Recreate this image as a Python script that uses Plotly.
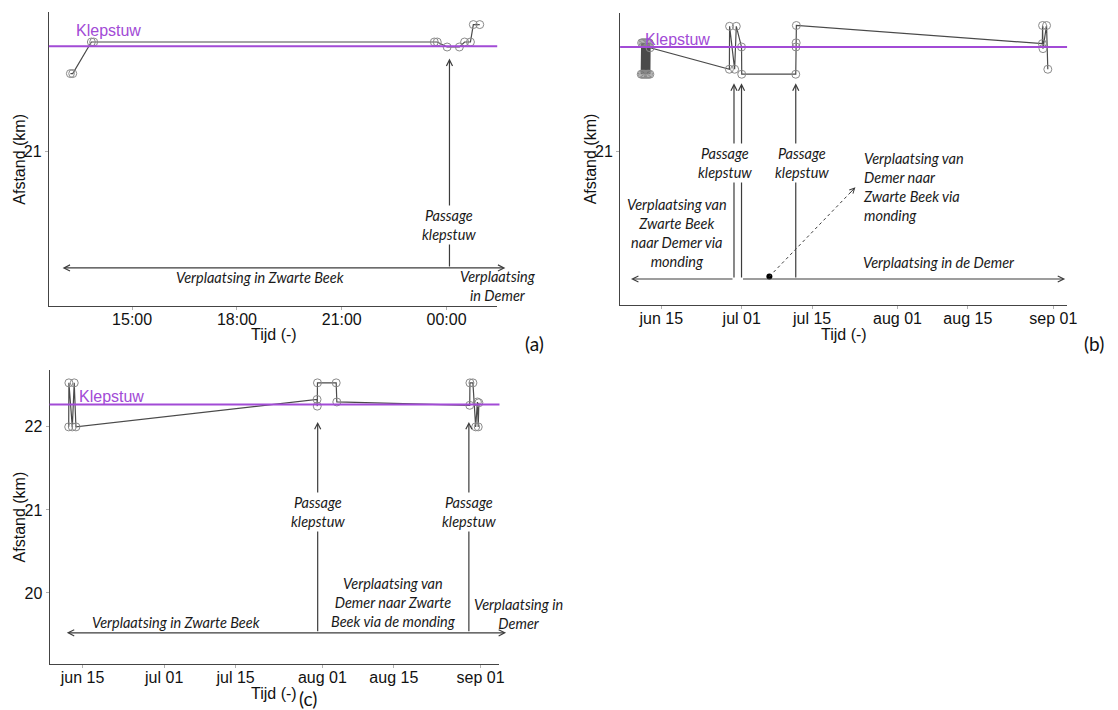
import pandas as pd
import plotly.graph_objects as go

# ---------------------------------------------------------------- data
KLEPSTUW_KM = 22.27          # position of the weir (km)
Y_RANGE = [19.145, 22.685]

# (a) one night, minute resolution
a_time = ["2019-06-12 13:14", "2019-06-12 13:18", "2019-06-12 13:50", "2019-06-12 13:54",
          "2019-06-12 23:39", "2019-06-12 23:44", "2019-06-13 00:01", "2019-06-13 00:22",
          "2019-06-13 00:31", "2019-06-13 00:41", "2019-06-13 00:46", "2019-06-13 00:57"]
a_km = [21.94, 21.94, 22.32, 22.32, 22.32, 22.32, 22.26, 22.26, 22.32, 22.32, 22.53, 22.53]
a_tickvals = ["2019-06-12 15:00", "2019-06-12 18:00", "2019-06-12 21:00", "2019-06-13 00:00"]
a_ticktext = ["15:00", "18:00", "21:00", "00:00"]
a_range = ["2019-06-12 12:37", "2019-06-13 01:27"]

# (b) summer track
b_time = ["2019-06-11 00:00", "2019-06-11 02:00", "2019-06-11 05:00", "2019-06-11 08:00",
          "2019-06-11 11:00", "2019-06-11 14:00", "2019-06-11 17:00", "2019-06-11 20:00",
          "2019-06-11 23:00", "2019-06-12 02:00", "2019-06-12 05:00", "2019-06-12 08:00",
          "2019-06-12 11:00", "2019-06-12 14:00", "2019-06-12 17:00", "2019-06-12 18:00",
          "2019-06-28 13:00", "2019-06-28 14:00", "2019-06-29 14:00", "2019-06-29 22:00",
          "2019-06-30 23:00", "2019-07-01 00:00", "2019-07-11 18:00", "2019-07-11 19:00",
          "2019-07-11 20:00", "2019-07-11 21:00", "2019-08-29 20:00", "2019-08-29 21:00",
          "2019-08-29 23:00", "2019-08-30 16:00", "2019-08-30 22:00"]
b_km = [21.94, 22.32, 21.94, 22.32, 21.94, 22.32, 21.94, 22.32,
        21.94, 22.32, 21.94, 22.32, 21.94, 22.32, 21.94, 22.26,
        22.00, 22.52, 22.00, 22.52, 22.27, 21.94, 21.94, 22.27,
        22.32, 22.53, 22.31, 22.53, 22.25, 22.53, 22.00]
b_range = ["2019-06-06 19:00", "2019-09-03 18:00"]

# (c) summer track
c_time = ["2019-06-12 07:00", "2019-06-12 08:00", "2019-06-13 00:00", "2019-06-13 09:00",
          "2019-06-13 17:00", "2019-07-30 23:00", "2019-07-31 00:00", "2019-07-31 01:00",
          "2019-08-03 17:00", "2019-08-03 20:00", "2019-08-29 21:00", "2019-08-29 22:00",
          "2019-08-30 12:00", "2019-08-31 01:00", "2019-08-31 09:00", "2019-08-31 13:00",
          "2019-08-31 16:00"]
c_km = [22.00, 22.53, 22.00, 22.53, 22.00, 22.33, 22.25, 22.53,
        22.53, 22.30, 22.26, 22.53, 22.53, 22.00, 22.30, 22.00, 22.29]
c_range = ["2019-06-08 13:00", "2019-09-04 17:00"]

month_tickvals = ["2019-06-15", "2019-07-01", "2019-07-15", "2019-08-01", "2019-08-15", "2019-09-01"]
month_ticktext = ["jun 15", "jul 01", "jul 15", "aug 01", "aug 15", "sep 01"]

# ---------------------------------------------------------------- styling
W, H = 1118, 710
PURPLE = "#A24BD6"
LINE = "#4a4a4a"
ARROW = "#3c3c3c"
AX_FONT = "Liberation Sans, Arial, sans-serif"
NOTE_FONT = dict(family="Lato, sans-serif", size=14.5, color="#1a1a1a", style="italic")


def px_x(px):
    return px / W


def px_y(py):
    return 1 - py / H


fig = go.Figure()

for xa, ya, t, km in [("x", "y", a_time, a_km), ("x2", "y2", b_time, b_km), ("x3", "y3", c_time, c_km)]:
    fig.add_trace(go.Scatter(
        x=pd.to_datetime(t), y=km, xaxis=xa, yaxis=ya, mode="lines+markers",
        line=dict(color=LINE, width=1.2),
        marker=dict(symbol="circle-open", size=8, color="#8a8a8a", line=dict(width=1)),
        showlegend=False, hoverinfo="skip"))

# black marker where the dotted arrow of (b) starts
dot_t, dot_km = pd.Timestamp("2019-07-06 12:00"), 19.49
dot_end_t, dot_end_km = pd.Timestamp("2019-07-23 15:00"), 20.57
fig.add_trace(go.Scatter(x=[dot_t], y=[dot_km], xaxis="x2", yaxis="y2", mode="markers",
                         marker=dict(color="black", size=6), showlegend=False, hoverinfo="skip"))

axis_common = dict(showline=True, linecolor="#444444", linewidth=1, showgrid=False, zeroline=False,
                   ticks="outside", ticklen=3, tickcolor="#b0b0b0", ticklabelstandoff=-4,
                   tickfont=dict(family=AX_FONT, size=16, color="#111111"))
yaxis_common = dict(axis_common, ticklabelstandoff=0)

fig.update_layout(
    width=W, height=H, margin=dict(l=0, r=0, t=0, b=0),
    paper_bgcolor="white", plot_bgcolor="white", showlegend=False,
    xaxis=dict(axis_common, domain=[px_x(49.3), px_x(501.7)], anchor="y", type="date",
               range=a_range, tickvals=a_tickvals, ticktext=a_ticktext),
    yaxis=dict(yaxis_common, domain=[px_y(305.7), px_y(11.7)], anchor="x", range=Y_RANGE, tickvals=[21]),
    xaxis2=dict(axis_common, domain=[px_x(625.7), px_x(1076.7)], anchor="y2", type="date",
                range=b_range, tickvals=month_tickvals, ticktext=month_ticktext),
    yaxis2=dict(yaxis_common, domain=[px_y(305), px_y(12.7)], anchor="x2", range=Y_RANGE, tickvals=[21]),
    xaxis3=dict(axis_common, domain=[px_x(50), px_x(504)], anchor="y3", type="date",
                range=c_range, tickvals=month_tickvals, ticktext=month_ticktext),
    yaxis3=dict(yaxis_common, domain=[px_y(664), px_y(370)], anchor="x3", range=Y_RANGE,
                tickvals=[20, 21, 22]),
)

# weir level lines
for ya in ["y", "y2", "y3"]:
    xa = "x" if ya == "y" else "x" + ya[1:]
    fig.add_shape(type="line", xref=f"{xa} domain", yref=ya, x0=0, x1=1,
                  y0=KLEPSTUW_KM, y1=KLEPSTUW_KM, line=dict(color=PURPLE, width=2))

# dotted arrow shaft in (b)
fig.add_shape(type="line", xref="x2", yref="y2", x0=dot_t, y0=dot_km, x1=dot_end_t, y1=dot_end_km,
              line=dict(color=ARROW, width=1, dash="dot"))

ann = []


def arrow(xr, yr, x, y, ax, ay, both=False):
    d = dict(xref=xr, yref=yr, axref=xr, ayref=yr, x=x, y=y, ax=ax, ay=ay, text="",
             showarrow=True, arrowhead=5, arrowsize=1, arrowwidth=1.2, arrowcolor=ARROW,
             standoff=0, startstandoff=0)
    if both:
        d.update(arrowside="end+start", startarrowhead=5, startarrowsize=1)
    ann.append(d)


def note(xr, yr, x, y, text, xanchor="center", align="center", bg=None):
    d = dict(xref=xr, yref=yr, x=x, y=y, text=text, showarrow=False, xanchor=xanchor,
             yanchor="middle", align=align, font=NOTE_FONT)
    if bg:
        d.update(bgcolor=bg, borderpad=1)
    ann.append(d)


def weir_label(xr, yr, x, y):
    ann.append(dict(xref=xr, yref=yr, x=x, y=y, text="Klepstuw", showarrow=False,
                    xanchor="left", yanchor="middle",
                    font=dict(family=AX_FONT, size=16, color=PURPLE)))


# ---- (a)
arrow("x", "y", "2019-06-13 00:05", 22.12, "2019-06-13 00:05", 19.60)
arrow("x", "y", "2019-06-13 01:41", 19.60, "2019-06-12 12:58", 19.60, both=True)
note("x", "y", "2019-06-13 00:05", 20.12, "Passage<br>klepstuw", bg="white")
note("x", "y", "2019-06-12 18:40", 19.48, "Verplaatsing in Zwarte Beek")
note("x", "y", "2019-06-13 00:19", 19.38, "Verplaatsing<br>in Demer", xanchor="left")
weir_label("x", "y", "2019-06-12 13:20", 22.46)

# ---- (b)
for t in ["2019-06-29 11:00", "2019-06-30 23:00", "2019-07-11 18:00"]:
    arrow("x2", "y2", t, 21.83, t, 19.46)
arrow("x2", "y2", "2019-06-08 23:00", 19.46, "2019-06-29 11:00", 19.46)
arrow("x2", "y2", "2019-09-03 09:00", 19.46, "2019-06-30 23:00", 19.46)
note("x2", "y2", "2019-06-27 18:00", 20.87, "Passage<br>klepstuw", bg="white")
note("x2", "y2", "2019-07-13 00:00", 20.87, "Passage<br>klepstuw", bg="white")
note("x2", "y2", "2019-06-18 05:00", 20.02, "Verplaatsing van<br>Zwarte Beek<br>naar Demer via<br>monding")
note("x2", "y2", "2019-07-24 20:00", 20.58, "Verplaatsing van<br>Demer naar<br>Zwarte Beek via<br>monding",
     xanchor="left", align="left")
note("x2", "y2", "2019-07-24 20:00", 19.66, "Verplaatsing in de Demer", xanchor="left")
head_t = dot_t + 0.92 * (dot_end_t - dot_t)
head_km = dot_km + 0.92 * (dot_end_km - dot_km)
ann.append(dict(xref="x2", yref="y2", axref="x2", ayref="y2", x=dot_end_t, y=dot_end_km,
                ax=head_t, ay=head_km, text="", showarrow=True, arrowhead=5, arrowsize=1,
                arrowwidth=1, arrowcolor=ARROW, standoff=0))
weir_label("x2", "y2", "2019-06-11 06:00", 22.36)

# ---- (c)
for t in ["2019-07-31 02:00", "2019-08-29 17:00"]:
    arrow("x3", "y3", t, 22.06, t, 19.52)
    note("x3", "y3", t, 20.97, "Passage<br>klepstuw", bg="white")
arrow("x3", "y3", "2019-09-06 00:00", 19.52, "2019-06-11 15:00", 19.52, both=True)
note("x3", "y3", "2019-07-03 07:00", 19.64, "Verplaatsing in Zwarte Beek")
note("x3", "y3", "2019-08-14 22:00", 19.88, "Verplaatsing van<br>Demer naar Zwarte<br>Beek via de monding")
note("x3", "y3", "2019-08-30 10:00", 19.75, "Verplaatsing in<br>Demer", xanchor="left")
weir_label("x3", "y3", "2019-06-13 20:00", 22.37)

# ---- axis titles and panel labels
title_font = dict(family=AX_FONT, size=16, color="#111111")
for cx, cy in [(276.8, 334.5), (851.5, 334.5), (276.8, 693.5)]:
    ann.append(dict(xref="paper", yref="paper", x=px_x(cx), y=px_y(cy), text="Tijd (-)",
                    showarrow=False, xanchor="center", yanchor="middle", font=title_font))
for cx, cy in [(19.6, 159.3), (595.4, 159.3), (19.6, 517)]:
    ann.append(dict(xref="paper", yref="paper", x=px_x(cx), y=px_y(cy), text="Afstand (km)",
                    textangle=-90, showarrow=False, xanchor="center", yanchor="middle", font=title_font))
for label, cx, cy in [("(a)", 539, 343), ("(b)", 1104, 343), ("(c)", 311, 698)]:
    ann.append(dict(xref="paper", yref="paper", x=px_x(cx), y=px_y(cy), text=label,
                    showarrow=False, xanchor="center", yanchor="middle",
                    font=dict(family="Lato, sans-serif", size=19, color="#111111")))

fig.update_layout(annotations=ann)
fig.write_html("out.html")
